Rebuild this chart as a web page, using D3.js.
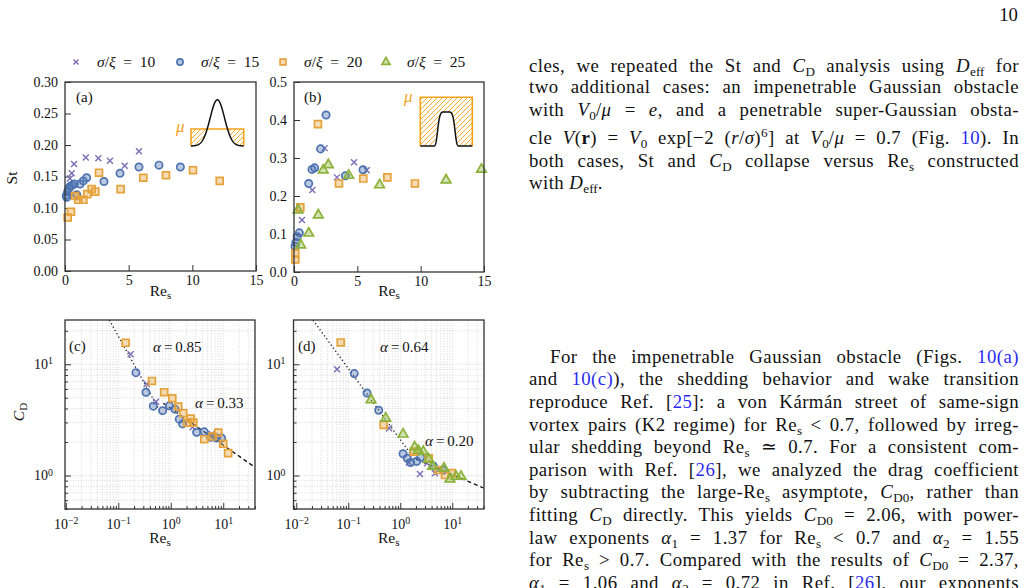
<!DOCTYPE html>
<html>
<head>
<meta charset="utf-8">
<script src="https://cdn.jsdelivr.net/npm/d3@7"></script>
<style>
  body { margin: 0; background: #fff; }
  #page { position: relative; width: 1026px; height: 588px; overflow: hidden; background: #fff; }
  svg { position: absolute; left: 0; top: 0; }
  svg text { font-family: 'Liberation Serif', 'DejaVu Serif', serif; fill: #111; }
  .ln { position: absolute; font-family: 'Liberation Serif', 'DejaVu Serif', serif; font-size: 18.8px; line-height: 22px;
        letter-spacing: 0.45px; color: #111; text-align: justify; white-space: normal; }
  .ln sub { font-size: 0.7em; vertical-align: -0.28em; line-height: 0; letter-spacing: 0; }
  .ln sup { font-size: 0.7em; vertical-align: 0.5em; line-height: 0; }
  .ln .lk { color: #2b2bef; }
</style>
</head>
<body>
<div id="page"></div>
<script>
// ---- data ----
const seriesKeys = ["10", "15", "20", "25"];
const seriesColors = ["#7b6db4", "#4c72b0", "#e5a23a", "#8cb23a"];
const seriesShapes = ["cross", "circle", "square", "triangle"];

// (a) St vs Re_s, impenetrable Gaussian
const stA10 = [[0.39,0.147],[0.53,0.155],[0.71,0.170],[1.63,0.180],[2.62,0.179],[3.53,0.175],[4.69,0.167],[5.81,0.190]];
const stA15 = [[0.10,0.120],[0.13,0.117],[0.21,0.126],[0.30,0.131],[0.39,0.134],[0.55,0.136],[0.73,0.138],[0.92,0.121],
               [1.18,0.138],[1.44,0.143],[1.70,0.148],[3.06,0.142],[4.32,0.155],[5.81,0.165],[7.38,0.168],[9.06,0.165]];
const stA20 = [[0.21,0.085],[0.47,0.094],[0.79,0.119],[1.05,0.113],[1.44,0.113],[1.75,0.122],[2.09,0.130],[2.38,0.126],
               [2.67,0.156],[4.37,0.130],[6.15,0.148],[7.93,0.152],[10.05,0.160],[12.15,0.143]];

// (b) St vs Re_s, penetrable super-Gaussian
const stB10 = [[0.63,0.137],[1.45,0.216],[2.42,0.326],[3.39,0.249],[4.74,0.289],[5.74,0.268]];
const stB15 = [[0.08,0.068],[0.15,0.078],[0.25,0.093],[0.42,0.103],[1.16,0.233],[1.42,0.270],[1.63,0.274],[2.10,0.324],
               [2.53,0.413],[4.05,0.253],[5.45,0.269]];
const stB20 = [[0.10,0.033],[0.10,0.049],[0.50,0.170],[1.89,0.389],[3.55,0.233],[5.47,0.246],[7.37,0.249],[9.55,0.233]];
const stB25 = [[0.32,0.163],[0.53,0.071],[1.16,0.102],[1.92,0.150],[2.31,0.268],[2.71,0.282],[4.32,0.254],[6.76,0.229],
               [12.0,0.242],[14.8,0.270]];

// (c) C_D vs Re_s, impenetrable Gaussian
const cdC10 = [[0.172,12.3],[0.348,6.65],[0.523,4.61],[2.61,2.72],[6.01,2.36]];
const cdC15 = [[0.217,8.41],[0.337,5.61],[0.465,4.20],[0.70,3.83],[0.94,4.23],[1.20,3.95],[1.45,3.21],[1.68,2.91],
               [3.11,2.45],[4.35,2.47],[5.75,2.21],[7.49,2.17],[9.3,2.17]];
const cdC20 = [[0.138,15.6],[0.438,7.08],[0.75,5.61],[1.07,4.95],[1.39,4.16],[1.73,3.63],[2.06,2.99],[2.39,3.25],
               [2.69,2.99],[4.35,2.12],[6.28,2.24],[8.04,2.43],[10.0,1.93],[12.4,1.59]];

// (d) C_D vs Re_s, penetrable super-Gaussian
const cdD10 = [[0.0607,9.02],[0.607,2.66],[1.47,1.31],[2.39,1.03],[3.26,1.29],[4.65,1.05]];
const cdD15 = [[0.130,8.24],[0.229,5.52],[0.385,3.86],[1.13,1.57],[1.36,1.43],[1.58,1.31],[2.07,1.34],[2.47,1.46],
               [4.32,1.22],[6.71,1.12]];
const cdD20 = [[0.0715,15.7],[0.48,2.85],[1.83,1.64],[3.52,1.43],[5.38,1.12],[7.24,1.01],[9.72,1.05]];
const cdD25 = [[0.274,4.79],[0.524,3.27],[1.13,2.35],[1.89,1.80],[2.22,1.68],[2.77,1.64],[3.52,1.40],[4.20,1.21],
               [6.92,1.16],[9.03,0.93],[11.8,0.98],[14.7,0.98]];

// power-law fits C_D = A Re^-alpha over [from, to]
const fitsC = [{alpha: 0.85, A: 2.53, from: 0.0676, to: 0.7, dash: "1.2,2.6"},
               {alpha: 0.33, A: 4.01, from: 0.72, to: 40, dash: "4,3"}];
const fitsD = [{alpha: 0.64, A: 2.10, from: 0.0209, to: 2.0, dash: "1.2,2.6"},
               {alpha: 0.20, A: 1.615, from: 2.0, to: 40, dash: "4,3"}];

const stTicksA = [0, 0.05, 0.10, 0.15, 0.20, 0.25, 0.30];
const stTicksB = [0, 0.1, 0.2, 0.3, 0.4, 0.5];
const reTicks = [0, 5, 10, 15];

// ---- drawing ----
const ORANGE = "#f5a21b";
const page = d3.select("#page");
const svg = page.append("svg").attr("width", 1026).attr("height", 588);
const defs = svg.append("defs");

const hatch = defs.append("pattern").attr("id", "hatch").attr("patternUnits", "userSpaceOnUse")
  .attr("width", 5).attr("height", 5);
hatch.append("path").attr("d", "M-1,1 l2,-2 M0,5 l5,-5 M4,6 l2,-2")
  .attr("stroke", ORANGE).attr("stroke-width", 0.9);

const crossType = {
  draw(ctx, size) {
    const r = Math.sqrt(size) / 2;
    ctx.moveTo(-r, -r); ctx.lineTo(r, r);
    ctx.moveTo(r, -r); ctx.lineTo(-r, r);
  }
};
const symTypes = { cross: crossType, circle: d3.symbolCircle, square: d3.symbolSquare, triangle: d3.symbolTriangle };
const symSizes = { cross: 36, circle: 42, square: 48, triangle: 40 };

function drawMarker(g, shape, color, k = 1) {
  g.append("path")
    .attr("d", d3.symbol(symTypes[shape], symSizes[shape] * k)())
    .attr("stroke", color)
    .attr("stroke-width", shape === "cross" ? 1.4 : 1.7)
    .attr("fill", shape === "cross" ? "none" : color)
    .attr("fill-opacity", 0.38);
}

function addSub(t, main, sub, italic) {
  t.append("tspan").attr("font-style", italic ? "italic" : null).text(main);
  t.append("tspan").attr("dy", "0.3em").attr("font-size", "0.72em").text(sub);
}

function logTicks(lo, hi) {
  const major = [], minor = [];
  for (let e = -3; e <= 2; e++) {
    for (let k = 1; k < 10; k++) {
      const v = +(k * Math.pow(10, e)).toPrecision(3);
      if (v < lo * 0.999 || v > hi * 1.001) continue;
      (k === 1 ? major : minor).push(v);
    }
  }
  return { major, minor };
}

const panels = [
  { id: "a", box: [65, 82, 256, 271], log: false, xd: [0, 15], yd: [0, 0.3], yt: stTicksA, yf: d3.format(".2f"),
    series: [stA10, stA15, stA20, null], tag: "(a)", tagPos: [76, 102], yPad: 7 },
  { id: "b", box: [294, 82, 484, 272], log: false, xd: [0, 15], yd: [0, 0.5], yt: stTicksB, yf: d3.format(".1f"),
    series: [stB10, stB15, stB20, stB25], tag: "(b)", tagPos: [304, 102], yPad: 7 },
  { id: "c", box: [65, 320, 255, 509], log: true, xd: [Math.pow(10, -2.015), Math.pow(10, 1.605)], yd: [0.5, 25],
    series: [cdC10, cdC15, cdC20, null], fits: fitsC, tag: "(c)", tagPos: [69, 351], yPad: 12,
    notes: [{ a: "0.85", x: 153, y: 352 }, { a: "0.33", x: 195, y: 408 }] },
  { id: "d", box: [293.5, 320, 484, 509], log: true, xd: [Math.pow(10, -2.054), Math.pow(10, 1.61)], yd: [0.5, 25],
    series: [cdD10, cdD15, cdD20, cdD25], fits: fitsD, tag: "(d)", tagPos: [298, 351], yPad: 8,
    notes: [{ a: "0.64", x: 380, y: 352 }, { a: "0.20", x: 425, y: 446 }] }
];

panels.forEach((p) => {
  const [l, t, r, b] = p.box;
  const g = svg.append("g").attr("class", "panel-" + p.id);
  const x = (p.log ? d3.scaleLog() : d3.scaleLinear()).domain(p.xd).range([l, r]);
  const y = (p.log ? d3.scaleLog() : d3.scaleLinear()).domain(p.yd).range([b, t]);

  defs.append("clipPath").attr("id", "clip-" + p.id)
    .append("rect").attr("x", l).attr("y", t).attr("width", r - l).attr("height", b - t);

  if (p.log) {
    const xt = logTicks(p.xd[0], p.xd[1]);
    const yt = logTicks(p.yd[0], p.yd[1]);
    const grid = g.append("g").attr("stroke", "#c8c8c8").attr("stroke-width", 0.7).attr("stroke-dasharray", "1,1.6");
    grid.selectAll("line.gx").data(xt.major.concat(xt.minor)).join("line").attr("class", "gx")
      .attr("x1", (d) => x(d)).attr("x2", (d) => x(d)).attr("y1", t).attr("y2", b);
    grid.selectAll("line.gy").data(yt.major.concat(yt.minor)).join("line").attr("class", "gy")
      .attr("y1", (d) => y(d)).attr("y2", (d) => y(d)).attr("x1", l).attr("x2", r);

    const sup = (sel) => {
      sel.selectAll(".tick text").text(null).each(function (d) {
        const te = d3.select(this);
        const e = Math.round(Math.log10(d));
        te.append("tspan").text("10");
        te.append("tspan").attr("dy", "-0.5em").attr("font-size", "0.7em").text(String(e).replace("-", "\u2212"));
      });
    };
    g.append("g").attr("transform", `translate(0,${b})`)
      .call(d3.axisBottom(x).tickValues(xt.major).tickSize(-6).tickPadding(10)).call(sup);
    g.append("g").attr("transform", `translate(0,${b})`)
      .call(d3.axisBottom(x).tickValues(xt.minor).tickSize(-3).tickFormat(""));
    g.append("g").attr("transform", `translate(${l},0)`)
      .call(d3.axisLeft(y).tickValues(yt.major).tickSize(-6).tickPadding(p.yPad)).call(sup);
    g.append("g").attr("transform", `translate(${l},0)`)
      .call(d3.axisLeft(y).tickValues(yt.minor).tickSize(-3).tickFormat(""));
  } else {
    g.append("g").attr("transform", `translate(0,${b})`)
      .call(d3.axisBottom(x).tickValues(reTicks).tickSize(-6).tickPadding(4).tickFormat(d3.format("d")));
    g.append("g").attr("transform", `translate(${l},0)`)
      .call(d3.axisLeft(y).tickValues(p.yt).tickSize(-6).tickPadding(p.yPad).tickFormat(p.yf));
  }
  g.selectAll(".domain").remove();
  g.selectAll(".tick line").attr("stroke", "#333").attr("stroke-width", 1);
  g.selectAll(".tick text").attr("font-size", 14).attr("font-family", "'Liberation Serif', serif").attr("fill", "#111");

  // fit lines
  if (p.fits) {
    const line = d3.line().x((d) => x(d[0])).y((d) => y(d[1]));
    g.append("g").attr("clip-path", `url(#clip-${p.id})`)
      .selectAll("path").data(p.fits).join("path")
      .attr("d", (f) => line([[f.from, f.A * Math.pow(f.from, -f.alpha)], [f.to, f.A * Math.pow(f.to, -f.alpha)]]))
      .attr("fill", "none").attr("stroke", "#111").attr("stroke-width", 1.3)
      .attr("stroke-dasharray", (f) => f.dash);
  }

  // markers
  p.series.forEach((s, i) => {
    if (!s) return;
    const sg = g.append("g");
    s.forEach((d) => {
      const m = sg.append("g").attr("transform", `translate(${x(d[0])},${y(d[1])})`);
      drawMarker(m, seriesShapes[i], seriesColors[i]);
    });
  });

  // frame
  g.append("rect").attr("x", l).attr("y", t).attr("width", r - l).attr("height", b - t)
    .attr("fill", "none").attr("stroke", "#333").attr("stroke-width", 1.3);

  g.append("text").attr("x", p.tagPos[0]).attr("y", p.tagPos[1]).attr("font-size", 15).text(p.tag);

  (p.notes || []).forEach((n) => {
    const te = g.append("text").attr("x", n.x).attr("y", n.y).attr("font-size", 15);
    te.append("tspan").attr("font-style", "italic").text("\u03b1");
    te.append("tspan").text("\u2009=\u2009" + n.a);
  });

  // x title
  const xt = g.append("text").attr("x", (l + r) / 2).attr("y", p.log ? 543 : 296)
    .attr("text-anchor", "middle").attr("font-size", 15.5);
  addSub(xt, "Re", "s", false);
});

// y titles
svg.append("text").attr("transform", "translate(17,178) rotate(-90)").attr("text-anchor", "middle")
  .attr("font-size", 15.5).text("St");
const cdt = svg.append("text").attr("transform", "translate(24,412) rotate(-90)").attr("text-anchor", "middle")
  .attr("font-size", 15.5);
addSub(cdt, "C", "D", true);

// insets
function drawInset(box, shapeFn, peakFrac) {
  const [l, t, r, b] = box;           // hatched fluid region, bottom = baseline
  const u = d3.scaleLinear().domain([-1, 1]).range([l, r]);
  const v = d3.scaleLinear().domain([0, 1]).range([b, b - (b - t) * peakFrac]);
  const pts = d3.range(-1, 1.0001, 0.01).map((s) => [s, shapeFn(s)]);
  const area = d3.area().x((d) => u(d[0])).y0(b).y1((d) => v(d[1]));
  const line = d3.line().x((d) => u(d[0])).y((d) => v(d[1]));
  const ig = svg.append("g");
  ig.append("rect").attr("x", l).attr("y", t).attr("width", r - l).attr("height", b - t).attr("fill", "url(#hatch)");
  ig.append("path").attr("d", area(pts)).attr("fill", "#fff");
  ig.append("path").attr("d", `M${l},${b}V${t}H${r}V${b}`).attr("fill", "none").attr("stroke", ORANGE).attr("stroke-width", 1.6);
  ig.append("path").attr("d", line(pts)).attr("fill", "none").attr("stroke", "#111").attr("stroke-width", 1.5);
}
// Gaussian with V0/mu = e  (peak sits above the mu level)
drawInset([191, 129, 243.7, 146], (s) => Math.exp(-(s * s) / (2 * 0.273 * 0.273)), Math.E);
// super-Gaussian with V0/mu = 0.7
drawInset([420.3, 97.3, 472.3, 146], (s) => Math.exp(-2 * Math.pow(s / 0.39, 6)), 0.7);

svg.append("text").attr("x", 176).attr("y", 132).attr("font-size", 17).attr("font-style", "italic")
  .style("fill", ORANGE).text("\u03bc");
svg.append("text").attr("x", 404).attr("y", 102).attr("font-size", 17).attr("font-style", "italic")
  .style("fill", ORANGE).text("\u03bc");

// legend
const legend = svg.append("g");
const legX = [76, 180, 283, 386];
seriesKeys.forEach((k, i) => {
  const m = legend.append("g").attr("transform", `translate(${legX[i]},62)`);
  drawMarker(m, seriesShapes[i], seriesColors[i], 0.7);
  const te = legend.append("text").attr("x", legX[i] + 21).attr("y", 67).attr("font-size", 15.5);
  te.append("tspan").attr("font-style", "italic").text("\u03c3");
  te.append("tspan").text("/");
  te.append("tspan").attr("font-style", "italic").text("\u03be");
  te.append("tspan").text("\u2002=\u2002" + k);
});

// page number
svg.append("text").attr("x", 1018).attr("y", 21).attr("text-anchor", "end").attr("font-size", 18.8).text("10");

// ---- running text on the right ----
const textLines = [
  "cles, we repeated the St and <i>C</i><sub>D</sub> analysis using <i>D</i><sub>eff</sub> for",
  "two additional cases: an impenetrable Gaussian obstacle",
  "with <i>V</i><sub>0</sub>/<i>\u03bc</i> = <i>e</i>, and a penetrable super-Gaussian obsta-",
  "cle <i>V</i>(<b>r</b>) = <i>V</i><sub>0</sub> exp[\u22122 (<i>r</i>/<i>\u03c3</i>)<sup>6</sup>] at <i>V</i><sub>0</sub>/<i>\u03bc</i> = 0.7 (Fig. <span class='lk'>10</span>). In",
  "both cases, St and <i>C</i><sub>D</sub> collapse versus Re<sub>s</sub> constructed",
  "with <i>D</i><sub>eff</sub>.",
  "For the impenetrable Gaussian obstacle (Figs. <span class='lk'>10(a)</span>",
  "and <span class='lk'>10(c)</span>), the shedding behavior and wake transition",
  "reproduce Ref. [<span class='lk'>25</span>]: a von K\u00e1rm\u00e1n street of same-sign",
  "vortex pairs (K2 regime) for Re<sub>s</sub> &lt; 0.7, followed by irreg-",
  "ular shedding beyond Re<sub>s</sub> \u2243 0.7. For a consistent com-",
  "parison with Ref. [<span class='lk'>26</span>], we analyzed the drag coefficient",
  "by subtracting the large-Re<sub>s</sub> asymptote, <i>C</i><sub>D0</sub>, rather than",
  "fitting <i>C</i><sub>D</sub> directly. This yields <i>C</i><sub>D0</sub> = 2.06, with power-",
  "law exponents <i>\u03b1</i><sub>1</sub> = 1.37 for Re<sub>s</sub> &lt; 0.7 and <i>\u03b1</i><sub>2</sub> = 1.55",
  "for Re<sub>s</sub> &gt; 0.7. Compared with the results of <i>C</i><sub>D0</sub> = 2.37,",
  "<i>\u03b1</i><sub>1</sub> = 1.06 and <i>\u03b1</i><sub>2</sub> = 0.72 in Ref. [<span class='lk'>26</span>], our exponents"
];
const lineBase = [71.7, 93.3, 115.7, 144.3, 166.7, 189.3,
                  362.7, 385.3, 407.9, 430.5, 453.1, 475.7, 498.3, 520.9, 543.5, 566.1, 588.7];
const lineIndent = textLines.map((_, i) => (i === 6 ? 21 : 0));
const lineJustify = textLines.map((_, i) => i !== 5);

page.selectAll("div.ln").data(textLines).join("div").attr("class", "ln")
  .style("left", (_, i) => 529 + lineIndent[i] + "px")
  .style("width", (_, i) => 490 - lineIndent[i] + "px")
  .style("top", (_, i) => lineBase[i] - 17 + "px")
  .style("text-align-last", (_, i) => (lineJustify[i] ? "justify" : "left"))
  .html((d) => d);
</script>
</body>
</html>
